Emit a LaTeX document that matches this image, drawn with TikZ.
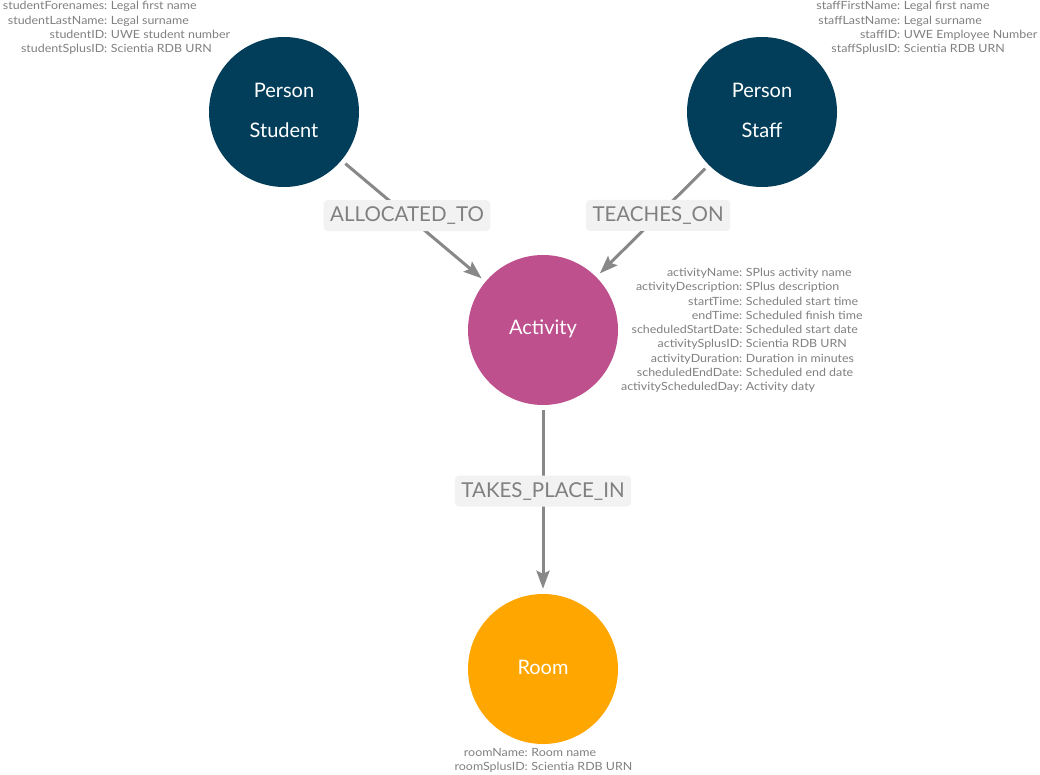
\documentclass[tikz,border=0pt]{standalone}
\usepackage{fontspec}
\setmainfont{Lato}
\newfontfamily\propfont[FakeStretch=1.1]{Lato}
\usetikzlibrary{arrows.meta}
\definecolor{navy}{RGB}{2,62,90}
\definecolor{actpink}{RGB}{190,80,142}
\definecolor{roomorange}{RGB}{255,166,0}
\definecolor{relgray}{RGB}{136,136,136}
\definecolor{labelfill}{RGB}{242,242,242}
\definecolor{labeltext}{RGB}{128,128,128}
\definecolor{proptext}{RGB}{128,128,128}
\tikzset{
  entity/.style={circle, minimum size=150pt, inner sep=0pt, draw=none},
  enttext/.style={text=white, font=\fontsize{20}{24}\selectfont, inner sep=0pt, anchor=base},
  rel/.style={draw=relgray, line width=3pt, -{Stealth[length=18pt,width=13pt,inset=3pt]}, shorten <=5pt, shorten >=5pt},
  elabel/.style={fill=labelfill, rounded corners=4pt, text=labeltext, font=\fontsize{20.5}{24}\selectfont,
    inner xsep=6.5pt, inner ysep=6.5pt, text height=15pt, text depth=3pt},
  propk/.style={text=proptext, font=\propfont\fontsize{11.3}{13}\selectfont, inner sep=0pt, anchor=base east},
  propv/.style={text=proptext, font=\propfont\fontsize{11.3}{13}\selectfont, inner sep=0pt, anchor=base west},
}
\newcommand\proplist[5]{%
  \foreach \k/\v [count=\i from 0] in {#5} {
    \node[propk] (#1k\i) at (#2, {-(#3)-(#4)*\i}) {\k:};
    \node[propv] (#1v\i) at (#2+3.2, {-(#3)-(#4)*\i}) {\v};
  }}
\begin{document}
\begin{tikzpicture}[x=1pt,y=1pt]
\useasboundingbox (0,0) rectangle (1040,-775);
\fill[white] (0,0) rectangle (1040,-775);

% entities
\node[entity, fill=navy] (student) at (284,-112) {};
\node[entity, fill=navy] (staff) at (762,-112) {};
\node[entity, fill=actpink] (activity) at (543,-330) {};
\node[entity, fill=roomorange] (room) at (543,-669) {};

\node[enttext] (studentA) at ([yshift=14pt]student.center) {Person};
\node[enttext] (studentB) at ([yshift=-26pt]student.center) {Student};
\node[enttext] (staffA) at ([yshift=14pt]staff.center) {Person};
\node[enttext] (staffB) at ([yshift=-26pt]staff.center) {Staff};
\node[enttext] (activityA) at ([yshift=-4.5pt]activity.center) {Activity};
\node[enttext] (roomA) at ([yshift=-5pt]room.center) {Room};

% relationships
\draw[rel] (student) -- (activity) node[elabel, pos=0.455] (l1) {ALLOCATED\_TO};
\draw[rel] (staff) -- (activity) node[elabel, pos=0.45] (l2) {TEACHES\_ON};
\draw[rel] (activity) -- (room) node[elabel, pos=0.455] (l3) {TAKES\_PLACE\_IN};

% properties
\proplist{st}{107.5}{10}{14.33}{studentForenames/Legal first name, studentLastName/Legal surname, studentID/UWE student number, studentSplusID/Scientia RDB URN}
\proplist{sf}{900.5}{10}{14.33}{staffFirstName/Legal first name, staffLastName/Legal surname, staffID/UWE Employee Number, staffSplusID/Scientia RDB URN}
\proplist{ac}{742.5}{276.5}{14.27}{activityName/SPlus activity name, activityDescription/SPlus description, startTime/Scheduled start time, endTime/Scheduled finish time, scheduledStartDate/Scheduled start date, activitySplusID/Scientia RDB URN, activityDuration/Duration in minutes, scheduledEndDate/Scheduled end date, activityScheduledDay/Activity daty}
\proplist{rm}{528}{756.5}{14.4}{roomName/Room name, roomSplusID/Scientia RDB URN}
\end{tikzpicture}
\end{document}
